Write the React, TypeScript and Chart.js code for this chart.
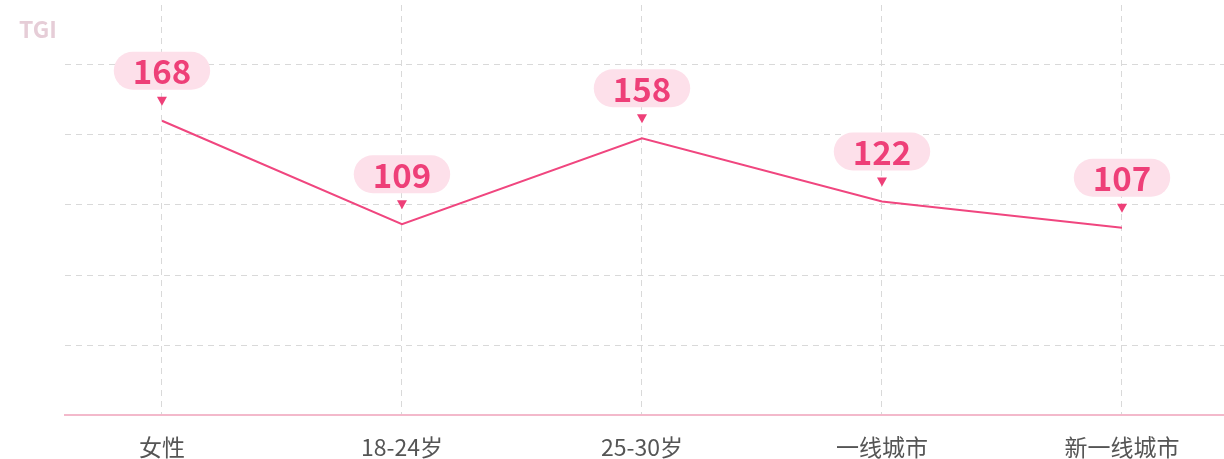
import React, { useEffect, useRef } from "react";
import { Chart, registerables } from "chart.js";

Chart.register(...registerables);

const categories = ["女性", "18-24岁", "25-30岁", "一线城市", "新一线城市"];
const tgiValues = [168, 109, 158, 122, 107];
const yTickStep = 40;
const yGridMax = 200;
const yAxisMax = 234;
const axisTitle = "TGI";

const FONT = '"Noto Sans CJK SC", "Noto Sans", sans-serif';

const pillPlugin = {
  id: "pillLabels",
  afterDatasetsDraw(chart: any) {
    const ctx = chart.ctx;
    const meta = chart.getDatasetMeta(0);
    ctx.save();
    meta.data.forEach((pt: any, i: number) => {
      const v = chart.data.datasets[0].data[i];
      const val = typeof v === "object" ? v.y : v;
      const text = String(val);
      const x = pt.x;
      const y = pt.y;
      ctx.font = `bold 33px ${FONT}`;
      const tw = ctx.measureText(text).width;
      const w = tw + 38;
      const h = 38;
      const cy = y - 50;
      const left = x - w / 2;
      const top = cy - h / 2;
      ctx.fillStyle = "#fde0ea";
      ctx.beginPath();
      (ctx as any).roundRect(left, top, w, h, h / 2);
      ctx.fill();
      // triangle
      ctx.fillStyle = "#ee3f78";
      ctx.beginPath();
      ctx.moveTo(x - 5, y - 24);
      ctx.lineTo(x + 5, y - 24);
      ctx.lineTo(x, y - 15);
      ctx.closePath();
      ctx.fill();
      ctx.fillStyle = "#ee3f78";
      ctx.textAlign = "center";
      ctx.textBaseline = "middle";
      ctx.fillText(text, x, cy + 1);
    });
    ctx.restore();
  },
};

const titlePlugin = {
  id: "tgiTitle",
  afterDraw(chart: any) {
    const ctx = chart.ctx;
    ctx.save();
    ctx.font = `bold 23px ${FONT}`;
    ctx.fillStyle = "#e6cdd7";
    ctx.textAlign = "left";
    ctx.textBaseline = "middle";
    ctx.fillText(axisTitle, 19, 29);
    ctx.restore();
  },
};

export default function App() {
  const canvasRef = useRef<HTMLCanvasElement | null>(null);

  useEffect(() => {
    if (!canvasRef.current) return;
    const chart = new Chart(canvasRef.current, {
      type: "line",
      data: {
        datasets: [
          {
            data: tgiValues.map((v, i) => ({ x: i, y: v })),
            borderColor: "#f0467f",
            borderWidth: 2,
            pointRadius: 0,
            tension: 0,
            fill: false,
          },
        ],
      },
      options: {
        responsive: false,
        animation: false,
        layout: { padding: { left: 65, right: 0, top: 5, bottom: -20 } },
        plugins: {
          legend: { display: false },
          tooltip: { enabled: false },
        },
        scales: {
          x: {
            type: "linear",
            min: -0.404,
            max: 4.425,
            ticks: {
              stepSize: 1,
              includeBounds: false,
              autoSkip: false,
              maxRotation: 0,
              padding: 18,
              color: "#555555",
              font: { family: FONT, size: 23 },
              callback: (v: any) => {
                const n = Number(v);
                return Number.isInteger(n) && categories[n] !== undefined ? categories[n] : "";
              },
            },
            grid: {
              drawTicks: false,
              color: "#d9d9d9",
              lineWidth: 1,
            },
            border: { display: true, color: "#f3b9cb", width: 2, dash: [6, 5] },
          },
          y: {
            min: 0,
            max: yAxisMax,
            ticks: { display: false, stepSize: yTickStep, includeBounds: false },
            grid: {
              drawTicks: false,
              color: (c: any) =>
                c.tick && c.tick.value > 0 && c.tick.value <= yGridMax ? "#d9d9d9" : "rgba(0,0,0,0)",
              lineWidth: 1,
            },
            border: { display: false, dash: [6, 5] },
          },
        },
      } as any,
      plugins: [pillPlugin, titlePlugin],
    });
    return () => chart.destroy();
  }, []);

  return (
    <div style={{ position: "absolute", left: 0, top: 0, width: 1224, height: 459, background: "#fff" }}>
      <canvas ref={canvasRef} width={1224} height={459} style={{ display: "block" }} />
    </div>
  );
}
